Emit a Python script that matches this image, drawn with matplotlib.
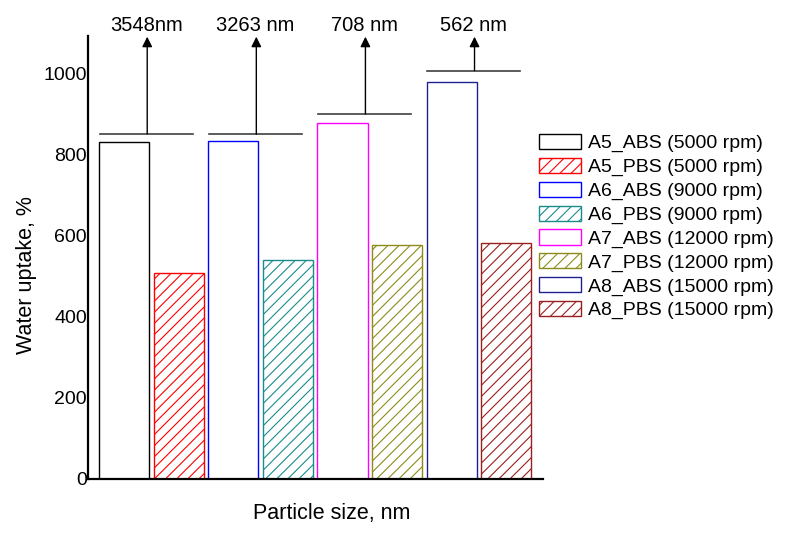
import numpy as np
import matplotlib
matplotlib.use('Agg')
import matplotlib.pyplot as plt

plt.rcParams['font.family'] = ['Liberation Sans', 'DejaVu Sans']
plt.rcParams['hatch.linewidth'] = 0.8

#%% datos
labels = ['A5_ABS (5000 rpm)', 'A5_PBS (5000 rpm)',
          'A6_ABS (9000 rpm)', 'A6_PBS (9000 rpm)',
          'A7_ABS (12000 rpm)', 'A7_PBS (12000 rpm)',
          'A8_ABS (15000 rpm)', 'A8_PBS (15000 rpm)']
uptake = [831, 508, 835, 540, 878, 577, 979, 582]
size_labels = ['3548nm', '3263 nm', '708 nm', '562 nm']
size_level = [852, 851, 901, 1008]

colors = ['black', 'red', 'blue', '#1a8c8c', 'magenta', '#8c8c1a', '#202090', '#9a1f1f']

#%% figura
fig = plt.figure(figsize=(7.87, 5.34), dpi=100)
ax = fig.add_axes([0.1122, 0.1036, 0.5774, 0.8299])

x = np.arange(len(uptake))
for i in range(len(uptake)):
    h = '///' if i % 2 == 1 else ''
    ax.bar(x[i], uptake[i], width=0.917, color='white', edgecolor=colors[i],
           hatch=h, linewidth=1.0, label=labels[i])

top_arrow = 1092
for g in range(len(size_labels)):
    y = size_level[g]
    ax.plot([2*g - 0.45, 2*g + 1.26], [y, y], color='#404040', lw=1.2, clip_on=False)
    ax.annotate('', xy=(2*g + 0.42, top_arrow), xytext=(2*g + 0.42, y),
                arrowprops=dict(arrowstyle='-|>', color='k', lw=1, mutation_scale=15,
                                shrinkA=0, shrinkB=0), annotation_clip=False)
    ax.text(2*g + 0.4, 1120, size_labels[g], ha='center', va='center', fontsize=14.5, clip_on=False)

ax.set_xlim(-0.66, 7.67)
ax.set_ylim(0, 1095)
ax.set_xticks([])
ax.set_yticks([0, 200, 400, 600, 800, 1000])
ax.tick_params(axis='y', length=0, labelsize=14, pad=1)
for s in ['top', 'right']:
    ax.spines[s].set_visible(False)
for s in ['left', 'bottom']:
    ax.spines[s].set_linewidth(1.6)

ax.set_xlabel('Particle size, nm', fontsize=15.5)
ax.xaxis.set_label_coords(0.536, -0.056)
ax.set_ylabel('Water uptake, %', fontsize=15.5)
ax.yaxis.set_label_coords(-0.112, 0.46)

ax.legend(loc='upper left', bbox_to_anchor=(539.3/787, 1 - 134/534), bbox_transform=fig.transFigure,
          frameon=False, fontsize=14, handlelength=2.16, handleheight=0.82,
          handletextpad=0.34, labelspacing=0.275, borderpad=0, borderaxespad=0)

fig.savefig('out.png', dpi=100)
